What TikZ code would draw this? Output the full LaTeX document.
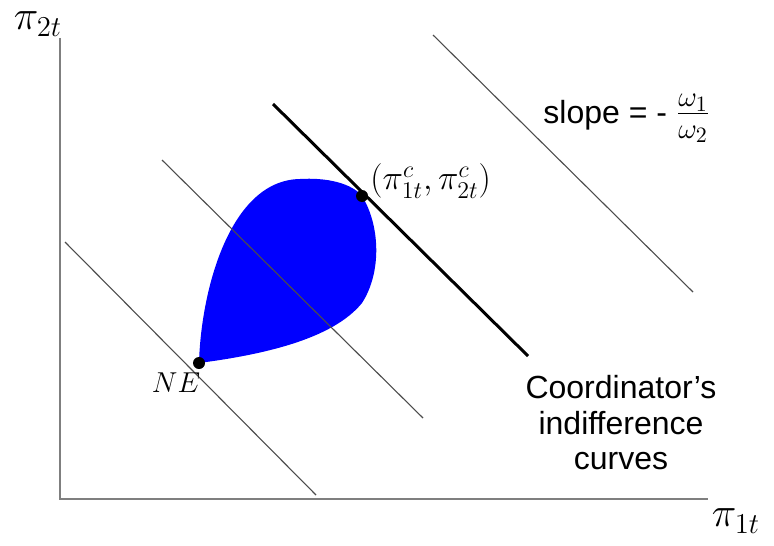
\documentclass[tikz,border=0pt]{standalone}
\usepackage{amsmath}
\usepackage{fontspec}
\usepackage{xcolor}
\usetikzlibrary{positioning}
\newfontfamily\arialfont{Liberation Sans}
\definecolor{regblue}{HTML}{0000FF}
\definecolor{axisgray}{HTML}{7F7F7F}
\tikzset{
  axisline/.style={draw=axisgray, line width=0.8pt},
  indiff/.style={draw=black!70, line width=0.55pt},
  indiffbold/.style={draw=black, line width=1.5pt},
  eqdot/.style={circle, fill=black, inner sep=0pt, minimum size=6pt},
  mathlabel/.style={font=\fontsize{17}{20}\selectfont, inner sep=1pt},
  axislabel/.style={font=\fontsize{21}{23}\selectfont, inner sep=0pt},
  txtlabel/.style={font=\arialfont\fontsize{16}{17.75}\selectfont, align=center, inner sep=1pt}
}

\begin{document}
\begin{tikzpicture}[x=0.5pt, y=-0.5pt]
    \useasboundingbox (0,0) rectangle (774,545);

    % achievable region
    \fill[regblue] (199,363) .. controls (201,290) and (230,180) .. (300,179)
        .. controls (335,177) and (355,187) .. (362,196)
        .. controls (380,225) and (382,272) .. (362,303)
        .. controls (332,340) and (260,355) .. (199,363) -- cycle;

    % axes
    \coordinate (ytop) at (60,38);
    \coordinate (orig) at (60,499);
    \coordinate (xend) at (708,499);
    \draw[axisline] (ytop) -- (orig) -- (xend);
    \node[axislabel] (ylab) at (38,24) {$\pi_{2t}$};
    \node[axislabel] (xlab) at (736,521) {$\pi_{1t}$};

    % indifference curves
    \draw[indiff] (65,242) -- (316,495);
    \draw[indiff] (162,160) -- (423,418);
    \draw[indiffbold] (273,104) -- (528,356);
    \draw[indiff] (433,35) -- (693,292);

    \node[eqdot] (ne) at (199,363) {};
    \node[eqdot] (cp) at (362,196) {};
    \node[mathlabel, font=\fontsize{14.5}{16}\selectfont] (nelab) at (176,383) {$NE$};
    \node[mathlabel, font=\fontsize{18}{20}\selectfont, anchor=west] (cplab) at (368,181) {$(\pi^c_{1t},\pi^c_{2t})$};

    \node[txtlabel, anchor=base west] (slope) at (541,124) {slope = - {\fontsize{21}{22}\selectfont$\frac{\omega_1}{\omega_2}$}};
    \node[txtlabel] (coord) at (621,423) {Coordinator’s\\indifference\\curves};
\end{tikzpicture}
\end{document}
